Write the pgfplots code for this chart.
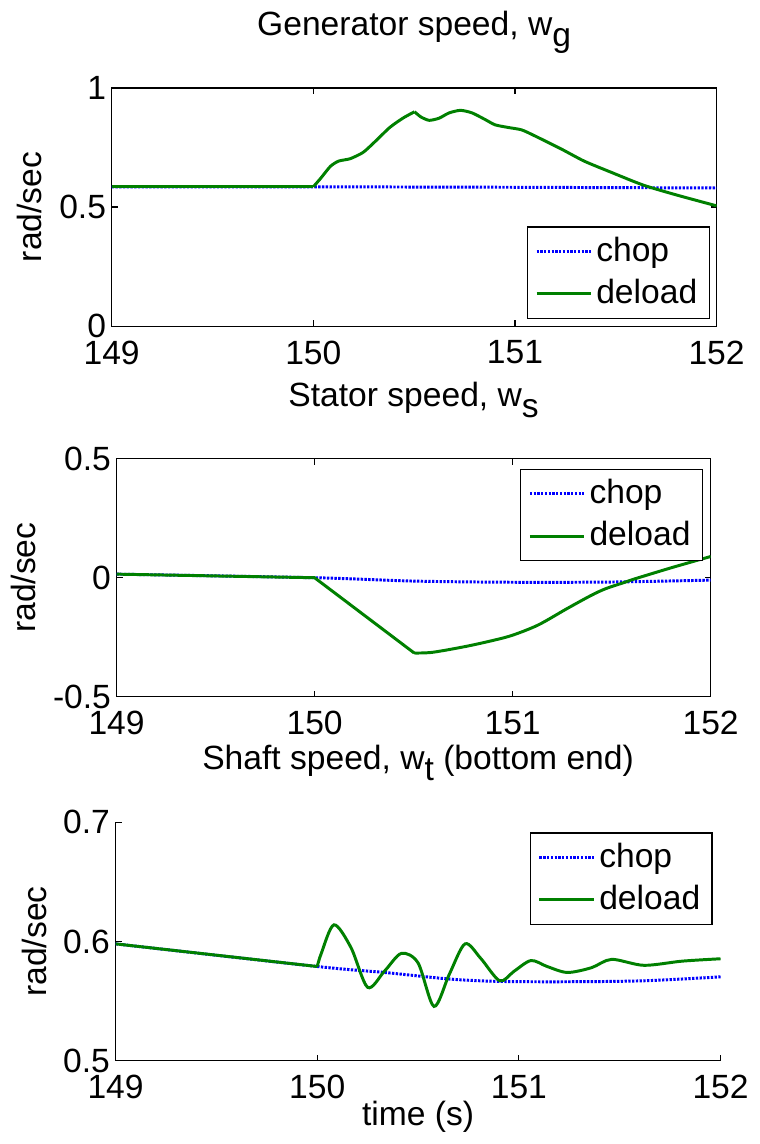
\documentclass[border=0pt]{standalone}
\usepackage{fontspec}
\setmainfont{Liberation Sans}
\usepackage{pgfplots}
\pgfplotsset{compat=1.18}
\definecolor{mgreen}{rgb}{0,0.5,0}
\newcommand{\fs}{\fontsize{17}{20}\selectfont}
\pgfplotsset{
  legend image code/.code={\draw[#1] (0pt,0pt) -- (27.5pt,0pt);},
  myax/.style={
    scale only axis, height=120.5pt,
    xmin=149, xmax=152, xtick={149,150,151,152},
    tick align=inside, major tick length=3pt,
    tick label style={font=\fs},
    /pgf/number format/assume math mode=true,
    xticklabel style={yshift=-1.5pt},
    yticklabel style={xshift=3pt},
    label style={font=\fs},
    title style={font=\fs, at={(0.5,1)}, anchor=base, yshift=20.5pt},
    ylabel={rad/sec},
    legend style={draw=black, fill=white, font=\fs, anchor=north east,
      cells={anchor=west}, line width=0.6pt, row sep=2.5pt,
      inner xsep=4pt, inner ysep=3pt},
    axis line style={line width=0.6pt},
    every tick/.style={black, line width=0.6pt},
  },
  chop/.style={blue, line width=1.5pt, dash pattern=on 1.2pt off 0.7pt},
  deload/.style={mgreen, line width=1.5pt},
}
\begin{document}
\fs
\begin{tikzpicture}[x=1pt,y=1pt]
\path (0,0) rectangle (380.5,572);

% ---------- top ----------
\begin{axis}[myax, at={(56pt,411.5pt)}, anchor=south west, width=306pt,
  ymin=0, ymax=1, ytick={0,0.5,1},
  title={Generator speed, w\raisebox{-5.5pt}{g}},
  ylabel style={at={(axis description cs:-0.116,0.5)}, anchor=base},
  legend style={at={(0.9886,0.419)}},
]
\addplot[chop] coordinates {(149,0.585) (150,0.585) (151,0.583) (152,0.580)};
\addlegendentry{chop}
\addplot[deload] coordinates {(149,0.585) (150,0.585)};
\addlegendentry{deload}
\addplot[deload, smooth, tension=0.4, forget plot] coordinates {
(150,0.585) (150.036,0.620) (150.085,0.671) (150.126,0.693)
(150.183,0.703) (150.248,0.730) (150.314,0.781) (150.379,0.834) (150.444,0.873)
(150.502,0.900)};
\addplot[deload, smooth, tension=0.4, forget plot] coordinates {
(150.502,0.900) (150.534,0.878) (150.575,0.864) (150.624,0.873) (150.673,0.895)
(150.730,0.906) (150.788,0.895) (150.853,0.867) (150.902,0.845) (150.967,0.834)
(151.033,0.824) (151.098,0.799) (151.229,0.744) (151.343,0.693) (151.474,0.647)
(151.637,0.592) (151.80,0.551) (152,0.505)};
\end{axis}

% ---------- middle ----------
\begin{axis}[myax, at={(58.5pt,224pt)}, anchor=south west, width=300.5pt,
  ymin=-0.5, ymax=0.5, ytick={-0.5,0,0.5},
  title={Stator speed, w\raisebox{-5.5pt}{s}},
  ylabel style={at={(axis description cs:-0.1364,0.5)}, anchor=base},
  legend style={at={(0.987,0.958)}},
]
\addplot[chop, smooth] coordinates {(149,0.015) (150,0) (150.5,-0.014) (151,-0.019) (151.5,-0.018) (152,-0.010)};
\addlegendentry{chop}
\addplot[deload] coordinates {(149,0.015) (150,0) (150.503,-0.316)};
\addlegendentry{deload}
\addplot[deload, smooth, tension=0.5, forget plot] coordinates {
(150.503,-0.316) (150.596,-0.313) (150.766,-0.288)
(150.912,-0.261) (151.004,-0.240) (151.13,-0.198) (151.276,-0.129)
(151.397,-0.074) (151.47,-0.046) (151.567,-0.019) (151.616,-0.005)
(151.81,0.044) (152,0.089)};
\end{axis}

% ---------- bottom ----------
\begin{axis}[myax, at={(58pt,40pt)}, anchor=south west, width=306pt,
  ymin=0.5, ymax=0.7, ytick={0.5,0.6,0.7},
  axis x line*=bottom, axis y line*=left,
  title={Shaft speed, w\raisebox{-5.5pt}{t} (bottom end)},
  xlabel={time (s)},
  xlabel style={at={(axis description cs:0.5,0)}, anchor=base, yshift=-33pt},
  ylabel style={at={(axis description cs:-0.1144,0.5)}, anchor=base},
  legend style={at={(0.987,0.958)}},
]
\addplot[chop, smooth] coordinates {
(149,0.598) (150,0.579) (150.333,0.574) (150.655,0.5685) (150.9,0.5665)
(151.24,0.5662) (151.62,0.567) (152,0.5703)};
\addlegendentry{chop}
\addplot[deload] coordinates {(149,0.598) (150,0.579)};
\addlegendentry{deload}
\addplot[deload, smooth, tension=0.5, forget plot] coordinates {
(150,0.579) (150.02,0.590) (150.083,0.614) (150.167,0.595) (150.25,0.5615)
(150.333,0.575) (150.417,0.590) (150.5,0.582) (150.579,0.5455) (150.655,0.5725)
(150.733,0.598) (150.81,0.586) (150.905,0.567) (150.976,0.575) (151.06,0.584)
(151.14,0.579) (151.24,0.574) (151.36,0.578) (151.46,0.585) (151.62,0.580)
(151.81,0.5835) (152,0.5855)};
\end{axis}
\end{tikzpicture}
\end{document}
